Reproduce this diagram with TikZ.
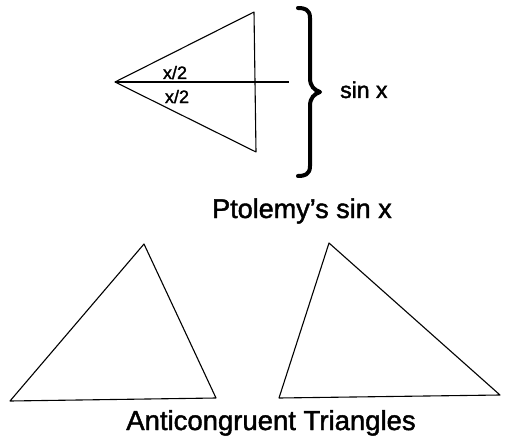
\documentclass[tikz,border=0pt]{standalone}
\usepackage{fontspec}
\setmainfont{Liberation Sans}
\newfontfamily\heavy{Liberation Sans}[FakeBold=1.6]
\begin{document}
\begin{tikzpicture}[x=1pt,y=-1pt,
  edge/.style={line width=1.1pt,line join=round},
  brace/.style={line width=4pt,line cap=round,line join=round},
  lbl/.style={inner sep=0pt,anchor=base,font=\heavy}]
\useasboundingbox (0,0) rectangle (513,441);
% Ptolemy triangle
\coordinate (A) at (115,82);
\coordinate (B) at (254,12);
\coordinate (C) at (256,152);
\coordinate (D) at (289,82);
\draw[edge] (A) -- (B) -- (C) -- cycle;
\draw[edge] (A) -- (D);
\node[lbl] (h1) at (175,79) {\fontsize{18}{18}\selectfont x/2};
\node[lbl] (h2) at (177,103) {\fontsize{18}{18}\selectfont x/2};
% brace
\draw[brace] (298,8) .. controls (304,8) and (310,9) .. (310,18)
  -- (310,78) .. controls (310,86) and (314,90) .. (320,92)
  .. controls (314,94) and (310,98) .. (310,106)
  -- (310,166) .. controls (310,175) and (304,176) .. (298,176);
\node[lbl,anchor=base west] (s) at (340,98) {\fontsize{23}{23}\selectfont sin x};
\node[lbl] (p) at (302,218) {\fontsize{27}{27}\selectfont Ptolemy’s sin x};
% anticongruent triangles
\coordinate (L1) at (10,401);
\coordinate (L2) at (144,244);
\coordinate (L3) at (216,398);
\draw[edge] (L1) -- (L2) -- (L3) -- cycle;
\coordinate (R1) at (279,398);
\coordinate (R2) at (329,243);
\coordinate (R3) at (500,395);
\draw[edge] (R1) -- (R2) -- (R3) -- cycle;
\node[lbl] (t) at (271,430) {\fontsize{27.5}{27.5}\selectfont Anticongruent Triangles};
\end{tikzpicture}
\end{document}
